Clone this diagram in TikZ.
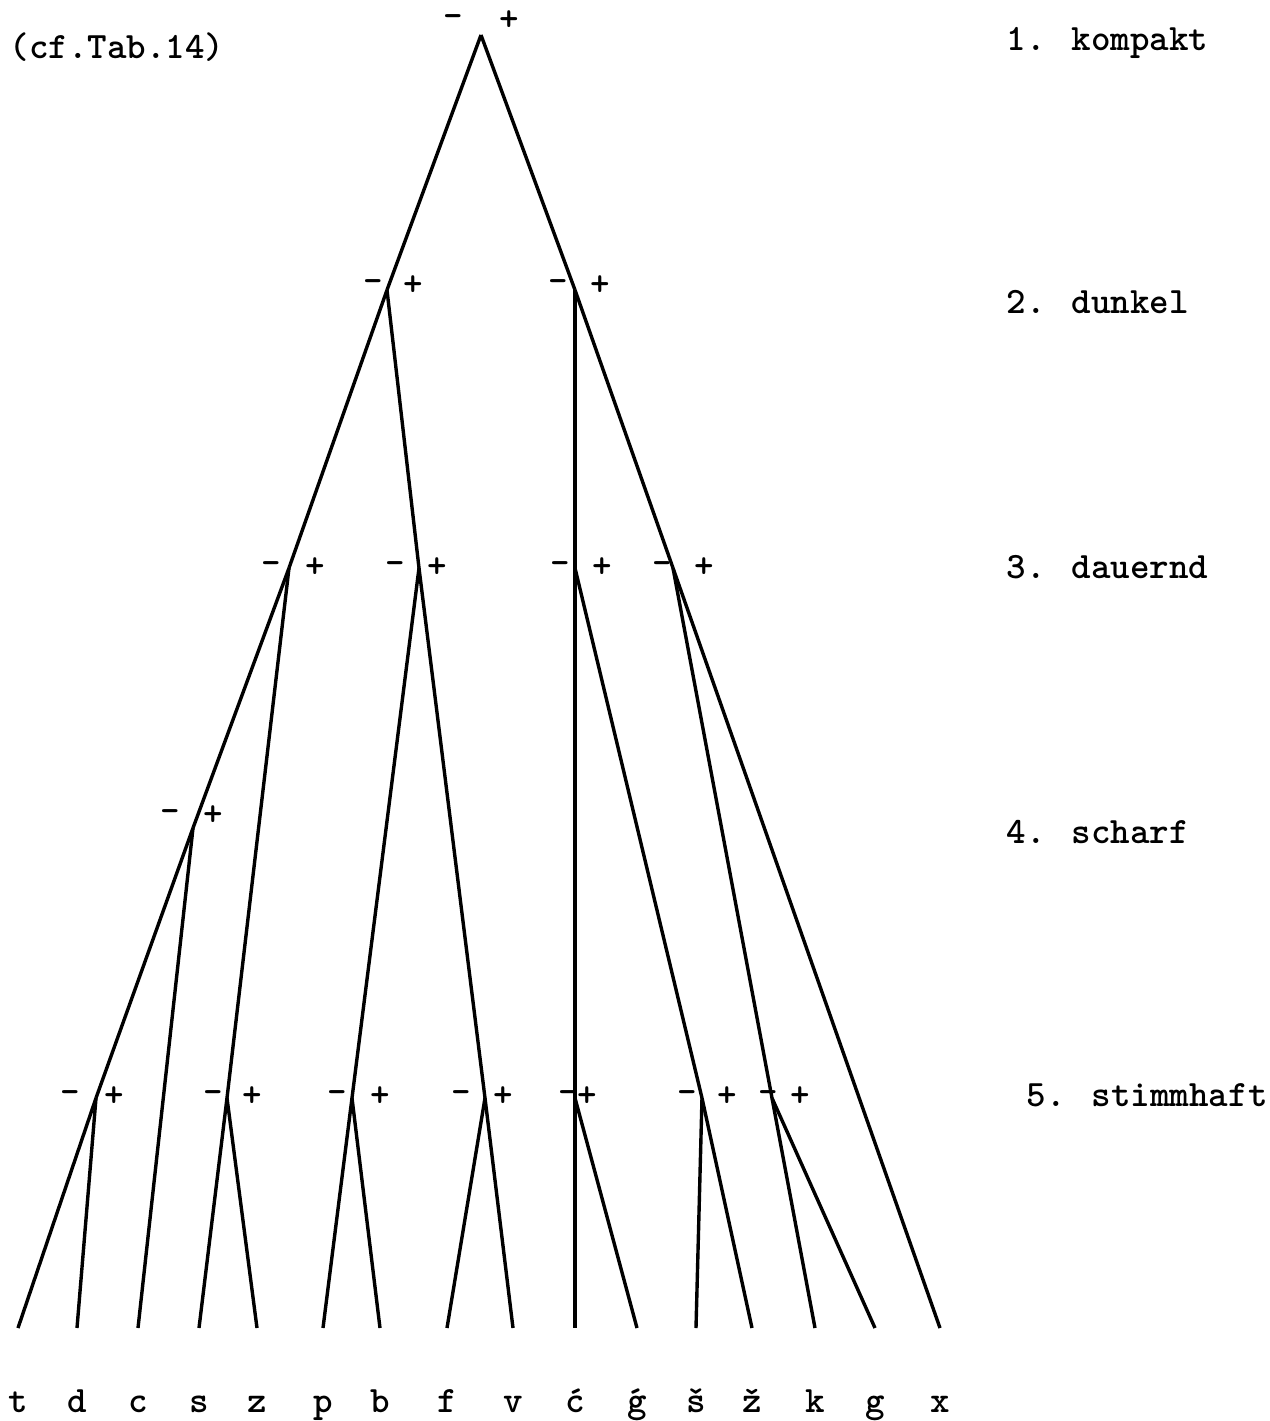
\documentclass[tikz,border=0pt]{standalone}
\usepackage{fontspec}

\begin{document}
\begin{tikzpicture}[x=0.5pt, y=-0.5pt, line width=1.7pt,
    typed/.style={font=\ttfamily\bfseries\fontsize{18.6}{21}\selectfont, inner sep=0pt},
    sign/.style={typed},
    letter/.style={typed, anchor=base},
    feature/.style={typed, anchor=base west}]

    % Fix the page size
    \useasboundingbox (0,0) rectangle (1270,1421);

    % Define the branching points
    \coordinate (n1) at (481,35);
    \coordinate (n2a) at (387,290);
    \coordinate (n2b) at (575,290);
    \coordinate (n3a) at (289,568);
    \coordinate (n3b) at (419,568);
    \coordinate (n3c) at (575,568);
    \coordinate (n3d) at (673,568);
    \coordinate (n4a) at (193,828);
    \coordinate (n5a) at (96,1098);
    \coordinate (n5b) at (227,1098);
    \coordinate (n5c) at (352,1098);
    \coordinate (n5d) at (485,1098);
    \coordinate (n5e) at (575,1098);
    \coordinate (n5f) at (702,1098);
    \coordinate (n5g) at (772,1098);

    % Define the leaves and their letters
    \foreach \i/\x/\t in {1/18/t, 2/77/d, 3/138/c, 4/199/s, 5/257/z, 6/323/p,
        7/380/b, 8/447/f, 9/513/v, 10/575/ć, 11/637/ǵ, 12/696/š, 13/752/ž,
        14/815/k, 15/875/g, 16/940/x} {
        \coordinate (l\i) at (\x,1328);
        \node[letter] (t\i) at (\x,1412) {\t};
    }

    % Draw the branches
    \foreach \a/\b in {n1/n2a, n1/n2b, n2a/n3a, n2a/n3b, n2b/n3c, n2b/n3d,
        n3a/n4a, n3a/n5b, n4a/n5a, n4a/l3, n5a/l1, n5a/l2, n5b/l4, n5b/l5,
        n3b/n5c, n3b/n5d, n5c/l6, n5c/l7, n5d/l8, n5d/l9,
        n3c/n5e, n3c/n5f, n5e/l10, n5e/l11, n5f/l12, n5f/l13,
        n3d/n5g, n3d/l16, n5g/l14, n5g/l15}
        \draw (\a) -- (\b);

    % Label the branches with - and +
    \foreach \n/\mx/\px/\dy in {n1/-28/28/-14, n2a/-14/26/-4, n2b/-17/25/-4,
        n3a/-18/26/0, n3b/-24/18/0, n3c/-15/27/0, n3d/-11/31/0, n4a/-23/20/-12,
        n5a/-26/18/-1, n5b/-14/25/-1, n5c/-15/28/-1, n5d/-24/18/-1,
        n5e/-7/12/-1, n5f/-15/25/-1, n5g/-4/28/-1} {
        \node[sign] (\n-m) at ([shift={(\mx,\dy)}]\n) {\textendash};
        \node[sign] (\n-p) at ([shift={(\px,\dy)}]\n) {+};
    }

    % Features on the right
    \node[feature] (f1) at (1005,50) {1. kompakt};
    \node[feature] (f2) at (1005,313) {2. dunkel};
    \node[feature] (f3) at (1005,578) {3. dauernd};
    \node[feature] (f4) at (1005,843) {4. scharf};
    \node[feature] (f5) at (1025,1106) {5. stimmhaft};

    % Reference
    \node[feature] (ref) at (8,58) {(cf.Tab.14)};

\end{tikzpicture}
\end{document}
